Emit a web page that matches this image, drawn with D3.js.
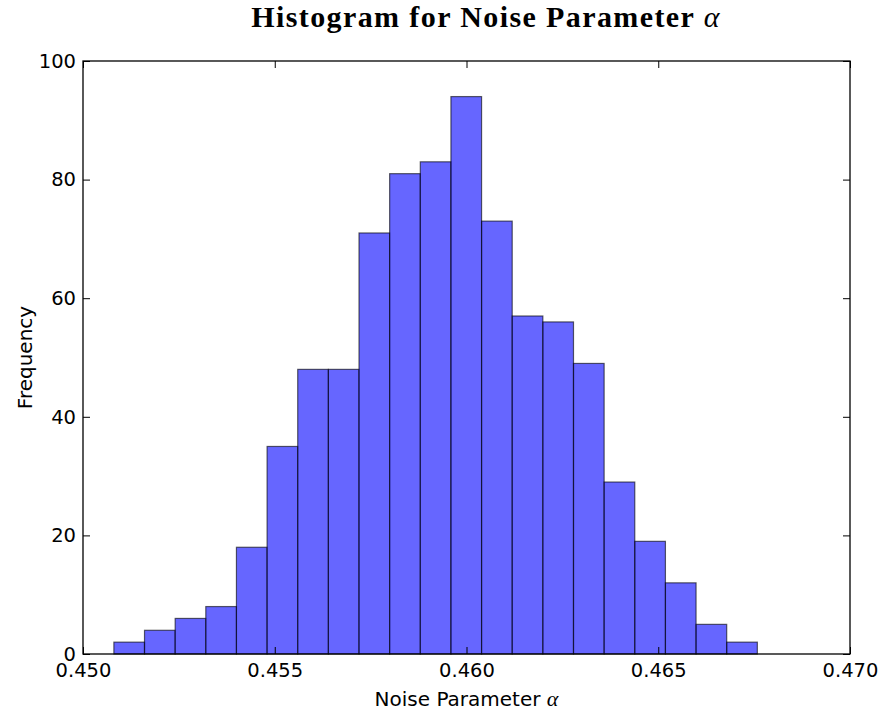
<!DOCTYPE html>
<html>
<head>
<meta charset="utf-8">
<script src="https://cdn.jsdelivr.net/npm/d3@7"></script>
<style>
  body { margin: 0; background: #fff; }
  text { font-family: "DejaVu Sans", sans-serif; }
</style>
</head>
<body>
<div id="chart"></div>
<script>
// histogram bins (left edges) and counts
var binStart = 0.450805;
var binWidth = 0.000799;
var counts = [2, 4, 6, 8, 18, 35, 48, 48, 71, 81, 83, 94, 73, 57, 56, 49, 29, 19, 12, 5, 2];
var xTicks = [0.450, 0.455, 0.460, 0.465, 0.470];
var yTicks = [0, 20, 40, 60, 80, 100];

var W = 882, H = 713;
var margin = {top: 61, right: 32, bottom: 59, left: 83};
var w = W - margin.left - margin.right;
var h = H - margin.top - margin.bottom;

var svg = d3.select("#chart").append("svg")
    .attr("width", W).attr("height", H);
var g = svg.append("g")
    .attr("transform", "translate(" + margin.left + "," + margin.top + ")");

var x = d3.scaleLinear().domain([0.450, 0.470]).range([0, w]);
var y = d3.scaleLinear().domain([0, 100]).range([h, 0]);

var bins = counts.map(function(c, i) {
    return {x0: binStart + i * binWidth, x1: binStart + (i + 1) * binWidth, n: c};
});

g.selectAll("rect.bar").data(bins).enter().append("rect")
    .attr("class", "bar")
    .attr("x", function(d) { return x(d.x0); })
    .attr("width", function(d) { return x(d.x1) - x(d.x0); })
    .attr("y", function(d) { return y(d.n); })
    .attr("height", function(d) { return h - y(d.n); })
    .style("fill", "#0000ff").style("fill-opacity", 0.6)
    .style("stroke", "#000").style("stroke-opacity", 0.6)
    .style("stroke-width", 1.2);

// axes, ticks inside like matplotlib classic
var tickLen = 7;
var fmt = d3.format(".3f");
var axBottom = g.append("g").attr("transform", "translate(0," + h + ")")
    .call(d3.axisBottom(x).tickValues(xTicks).tickFormat(fmt).tickSizeInner(-tickLen).tickSizeOuter(0).tickPadding(9));
var axTop = g.append("g")
    .call(d3.axisTop(x).tickValues(xTicks).tickFormat("").tickSizeInner(-tickLen).tickSizeOuter(0));
var axLeft = g.append("g")
    .call(d3.axisLeft(y).tickValues(yTicks).tickSizeInner(-tickLen).tickSizeOuter(0).tickPadding(7));
var axRight = g.append("g").attr("transform", "translate(" + w + ",0)")
    .call(d3.axisRight(y).tickValues(yTicks).tickFormat("").tickSizeInner(-tickLen).tickSizeOuter(0));

[axBottom, axTop, axLeft, axRight].forEach(function(a) {
    a.select(".domain").remove();
    a.selectAll("line").style("stroke", "#000").style("stroke-width", 1);
    a.selectAll("text").style("font-size", "19.5px").style("fill", "#000")
        .style("font-family", "'DejaVu Sans', sans-serif");
});

g.append("rect").attr("width", w).attr("height", h)
    .style("fill", "none").style("stroke", "#000").style("stroke-width", 1.3);

// labels
g.append("text")
    .attr("x", w / 2).attr("y", h + 52)
    .attr("text-anchor", "middle")
    .style("font-size", "20px")
    .html("Noise Parameter <tspan font-family=\"'Liberation Serif', serif\" font-style=\"italic\" font-size=\"22px\">α</tspan>");

g.append("text")
    .attr("transform", "translate(" + (-51.5) + "," + (h / 2) + ") rotate(-90)")
    .attr("text-anchor", "middle")
    .style("font-size", "20px")
    .text("Frequency");

svg.append("text")
    .attr("x", 486).attr("y", 27)
    .attr("text-anchor", "middle")
    .style("font-family", "'Liberation Serif', serif")
    .style("font-weight", "bold")
    .style("font-size", "30px")
    .style("letter-spacing", "1.4px")
    .html("Histogram for Noise Parameter <tspan font-style=\"italic\" font-weight=\"normal\">α</tspan>");
</script>
</body>
</html>
